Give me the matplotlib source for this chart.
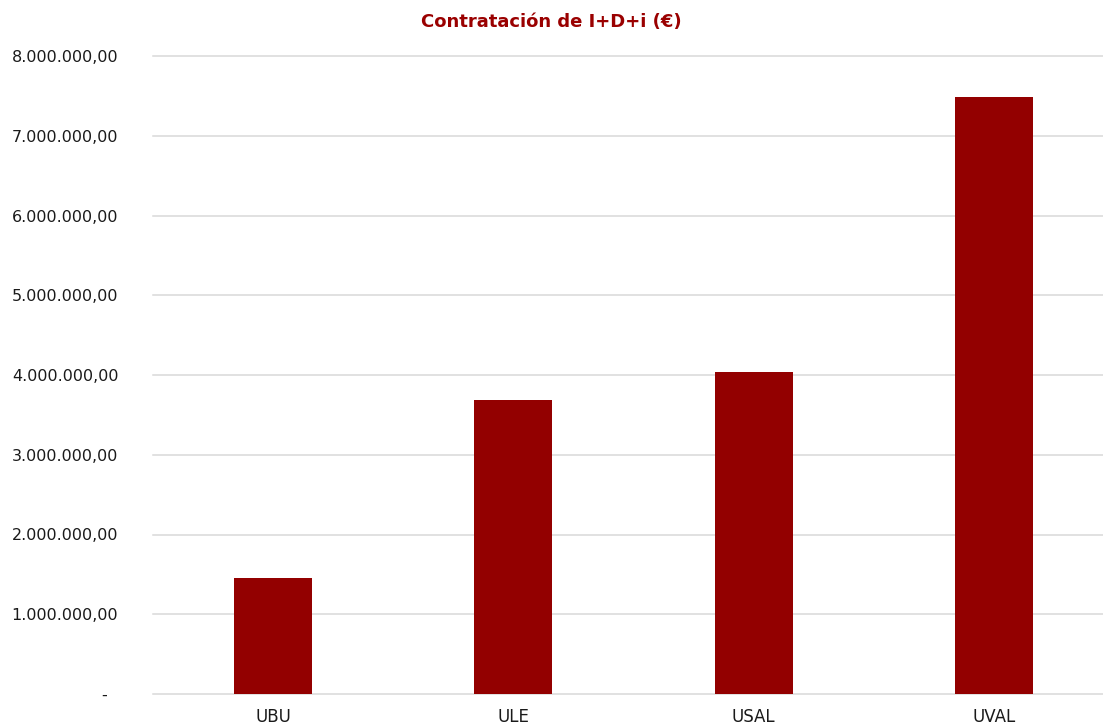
import matplotlib.pyplot as plt
from matplotlib.ticker import FuncFormatter

plt.rcParams['font.family'] = ['DejaVu Sans']

universidades = ['UBU', 'ULE', 'USAL', 'UVAL']
contratacion = [1455000, 3688000, 4035000, 7485000]
y_ticks = [0, 1000000, 2000000, 3000000, 4000000, 5000000, 6000000, 7000000, 8000000]

rojo = '#930000'


def fmt_euros(v, pos):
    if v == 0:
        return '-  '
    s = f'{v:,.2f}'
    return s.replace(',', 'X').replace('.', ',').replace('X', '.')


fig = plt.figure(figsize=(11.03, 7.24), dpi=100)
ax = fig.add_axes([153 / 1103, 30 / 724, 961 / 1103, 638 / 724])

ax.bar(range(len(universidades)), contratacion, width=0.325, color=rojo, zorder=3)

ax.set_xlim(-0.5, len(universidades) - 0.5)
ax.set_ylim(0, 8000000)
ax.set_yticks(y_ticks)
ax.yaxis.set_major_formatter(FuncFormatter(fmt_euros))
ax.set_xticks(range(len(universidades)))
ax.set_xticklabels(universidades)

ax.grid(axis='y', color='#d9d9d9', linewidth=1.1, zorder=0)
for gl in ax.get_ygridlines():
    gl.set_clip_on(False)
for s in ax.spines.values():
    s.set_visible(False)
ax.tick_params(axis='y', length=0, pad=25, labelsize=11.5, labelcolor='#1a1a1a')
ax.tick_params(axis='x', length=0, pad=10, labelsize=12, labelcolor='#1a1a1a')

fig.text(0.5, 1 - 22 / 724, 'Contratación de I+D+i (€)', ha='center', va='center',
         fontsize=13, fontweight='bold', color='#9a0000')

fig.savefig('out.png', dpi=100)
